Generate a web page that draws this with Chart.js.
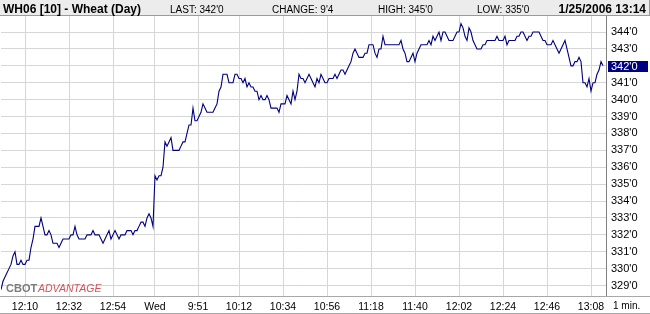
<!DOCTYPE html>
<html>
<head>
<meta charset="utf-8">
<script src="https://cdn.jsdelivr.net/npm/chart.js@4/dist/chart.umd.min.js"></script>
<style>
  html, body { margin: 0; padding: 0; background: #ffffff; }
  #wrap { width: 650px; height: 314px; position: relative; }
</style>
</head>
<body>
<div id="wrap"><canvas id="c" width="650" height="314"></canvas></div>
<script>
// ---- data (1-minute closes, cents) ----
const prices = [
  328.75, 329.25, 329.5, 329.75, 330, 330.25, 330.75, 331, 330.25, 330.25,
  330.5, 330.25, 330.25, 330.5, 330.5, 331.25, 331.75, 332.5, 332.5, 332.5,
  333, 332.5, 332, 332, 332.25, 332, 331.5, 331.5, 331.5, 331.25,
  331.5, 331.75, 331.75, 331.75, 331.75, 332, 332, 332.5, 332, 331.75,
  331.75, 331.75, 331.75, 332, 332, 332, 332.25, 332, 332, 332,
  331.75, 331.5, 331.75, 332, 332.25, 331.75, 332, 332.25, 332, 331.75,
  332, 332, 332, 332.25, 332.25, 332.25, 332, 332.25, 332.25, 332.5,
  332.75, 332.75, 332.5, 333, 333.25, 333, 332.5, 335.5, 335.25, 335.5,
  335.5, 336, 337.5, 337.25, 337.5, 337.75, 337, 337, 337, 337,
  337.25, 337.5, 337.5, 338, 338.5, 338.5, 339.5, 338.75, 338.75, 339,
  339.25, 339.75, 339.5, 339.25, 339.25, 339.25, 339.25, 339.5, 339.75, 340.5,
  340.75, 341.5, 341.5, 341.5, 341, 341, 341, 341.5, 341.5, 341.25,
  341.25, 341, 341.25, 340.75, 341, 340.75, 340.75, 340.5, 340.5, 340,
  340.25, 340, 340, 340.25, 340, 339.5, 339.5, 339.5, 339.5, 339.25,
  339.75, 339.75, 339.75, 340.25, 340, 339.75, 340.5, 340, 340.5, 341.5,
  341.25, 341.25, 341, 341.25, 341.5, 341.25, 341, 340.75, 341.25, 341,
  341.5, 341.25, 341, 341, 341.25, 341.25, 341.25, 341.5, 341.25, 341.5,
  341.75, 341.75, 341.5, 341.75, 342, 342.25, 342.75, 343, 342.75, 342.5,
  342.5, 342.5, 342.75, 342.75, 343.25, 343.25, 343.25, 342.75, 342.5, 343,
  343, 343.75, 343.25, 343.25, 343.25, 343.25, 343.25, 343.25, 343.25, 343.25,
  343.5, 343, 342.75, 342.25, 342.25, 342.5, 342.75, 342.25, 342.75, 343,
  343.25, 343.25, 343.25, 343.25, 343.5, 343.25, 343.75, 343.5, 343.75, 344,
  343.5, 344, 344, 343.75, 343.5, 343.5, 343.5, 343.75, 344, 344,
  344.5, 344.25, 343.75, 343.5, 344.25, 344, 343.5, 343.25, 343, 343,
  343, 343.25, 343.25, 343.5, 343.5, 343.5, 343.5, 343.5, 343.75, 343.5,
  343.5, 343.5, 343.75, 343.25, 343.5, 343.5, 343.5, 343.5, 343.75, 343.75,
  344, 344, 343.75, 343.5, 343.75, 343.75, 344, 344, 344, 344,
  343.75, 343.5, 343.5, 343.25, 343.25, 343.25, 343.5, 343.25, 343, 342.75,
  343, 343.25, 343.5, 343, 342.5, 342, 342, 342.25, 342.25, 342.5,
  342.25, 341, 341, 340.75, 341.25, 340.5, 341, 341, 341.5, 341.75,
  342.25, 342
];
const xTickLabels = ["12:10", "12:32", "12:54", "Wed", "9:51", "10:12", "10:34",
                     "10:56", "11:18", "11:40", "12:02", "12:24", "12:46", "13:08"];
const xTickBars   = [12, 34, 56, 77, 98.5, 119, 141, 163, 185, 207, 229, 251, 273, 295];
const yTicks      = [329, 330, 331, 332, 333, 334, 335, 336, 337, 338, 339, 340, 341, 342, 343, 344];
const titleText   = "WH06 [10] - Wheat (Day)";
const statNames   = ["LAST:", "CHANGE:", "HIGH:", "LOW:"];
const statValues  = ["342'0", "9'4", "345'0", "335'0"];
const stampText   = "1/25/2006 13:14";
const periodText  = "1 min.";

function fmt(v) {
  const w = Math.floor(v + 1e-9);
  const eighths = Math.round((v - w) * 8);
  return w + "'" + eighths;
}

const FONT = "'Liberation Sans', Arial, sans-serif";
const GRID = '#d6d6d6';

const overlay = {
  id: 'overlay',
  afterDraw(chart) {
    const ctx = chart.ctx;
    const ys = chart.scales.y;
    ctx.save();
    // header band
    ctx.fillStyle = '#ececec';
    ctx.fillRect(0, 0, 650, 16);
    ctx.strokeStyle = '#9a9a9a';
    ctx.lineWidth = 1;
    ctx.beginPath();
    ctx.moveTo(0, 15.5); ctx.lineTo(650, 15.5);
    ctx.moveTo(649.5, 0); ctx.lineTo(649.5, 16);
    ctx.stroke();
    ctx.fillStyle = '#000000';
    ctx.textBaseline = 'alphabetic';
    ctx.textAlign = 'left';
    ctx.font = "bold 12px " + FONT;
    ctx.fillText(titleText, 3, 13);
    ctx.font = "10px " + FONT;
    const sx = [170, 272, 378, 477];
    statNames.forEach((n, i) => ctx.fillText(n + " " + statValues[i], sx[i], 12.5));
    ctx.font = "bold 12px " + FONT;
    ctx.textAlign = 'right';
    ctx.fillText(stampText, 646, 13);

    // bottom separators
    ctx.strokeStyle = '#a8a8a8';
    ctx.beginPath();
    ctx.moveTo(0, 296.5); ctx.lineTo(650, 296.5);
    ctx.moveTo(0, 313.5); ctx.lineTo(650, 313.5);
    ctx.stroke();

    // period label
    ctx.fillStyle = '#000000';
    ctx.textAlign = 'left';
    ctx.font = "10px " + FONT;
    ctx.fillText(periodText, 613, 309);

    // last-price marker on the right axis
    const last = prices[prices.length - 1];
    const py = ys.getPixelForValue(last);
    ctx.fillStyle = '#000080';
    ctx.fillRect(608, Math.round(py) - 5, 40, 11);
    ctx.fillStyle = '#ffffff';
    ctx.font = "11px " + FONT;
    ctx.textBaseline = 'middle';
    ctx.fillText(fmt(last), 611, Math.round(py) + 0.5);

    // logo
    ctx.textBaseline = 'alphabetic';
    ctx.font = "bold 11px " + FONT;
    ctx.fillStyle = '#7c7c7c';
    ctx.fillText("CBOT", 6, 292);
    ctx.font = "italic 10.5px " + FONT;
    ctx.fillStyle = '#d2545c';
    ctx.fillText("ADVANTAGE", 38, 292);
    ctx.restore();
  }
};

new Chart(document.getElementById('c'), {
  type: 'line',
  data: {
    datasets: [{
      data: prices.map((v, i) => ({ x: i, y: v })),
      borderColor: '#000080',
      borderWidth: 1.1,
      pointRadius: 0,
      tension: 0,
      fill: false
    }]
  },
  options: {
    responsive: false,
    animation: false,
    events: [],
    layout: { padding: { left: 1, top: 16, right: 0, bottom: 0 } },
    plugins: { legend: { display: false }, tooltip: { enabled: false } },
    scales: {
      x: {
        type: 'linear',
        min: 0,
        max: 302.5,
        afterBuildTicks: s => { s.ticks = xTickBars.map(v => ({ value: v })); },
        afterFit: s => { s.height = 18; },
        grid: { color: GRID, drawTicks: false, lineWidth: 1 },
        border: { display: false },
        ticks: {
          autoSkip: false, maxRotation: 0, minRotation: 0, padding: 5,
          color: '#000000', font: { family: FONT, size: 10.5 },
          callback: (v, i) => xTickLabels[i]
        }
      },
      y: {
        position: 'right',
        min: 328.38,
        max: 344.95,
        afterBuildTicks: s => { s.ticks = yTicks.map(v => ({ value: v })); },
        afterFit: s => { s.width = 44; },
        grid: { color: GRID, drawTicks: false, lineWidth: 1 },
        border: { display: true, color: '#808080', width: 1 },
        ticks: {
          padding: 5, color: '#000000', font: { family: FONT, size: 11 },
          callback: v => fmt(v)
        }
      }
    }
  },
  plugins: [overlay]
});
</script>
</body>
</html>
